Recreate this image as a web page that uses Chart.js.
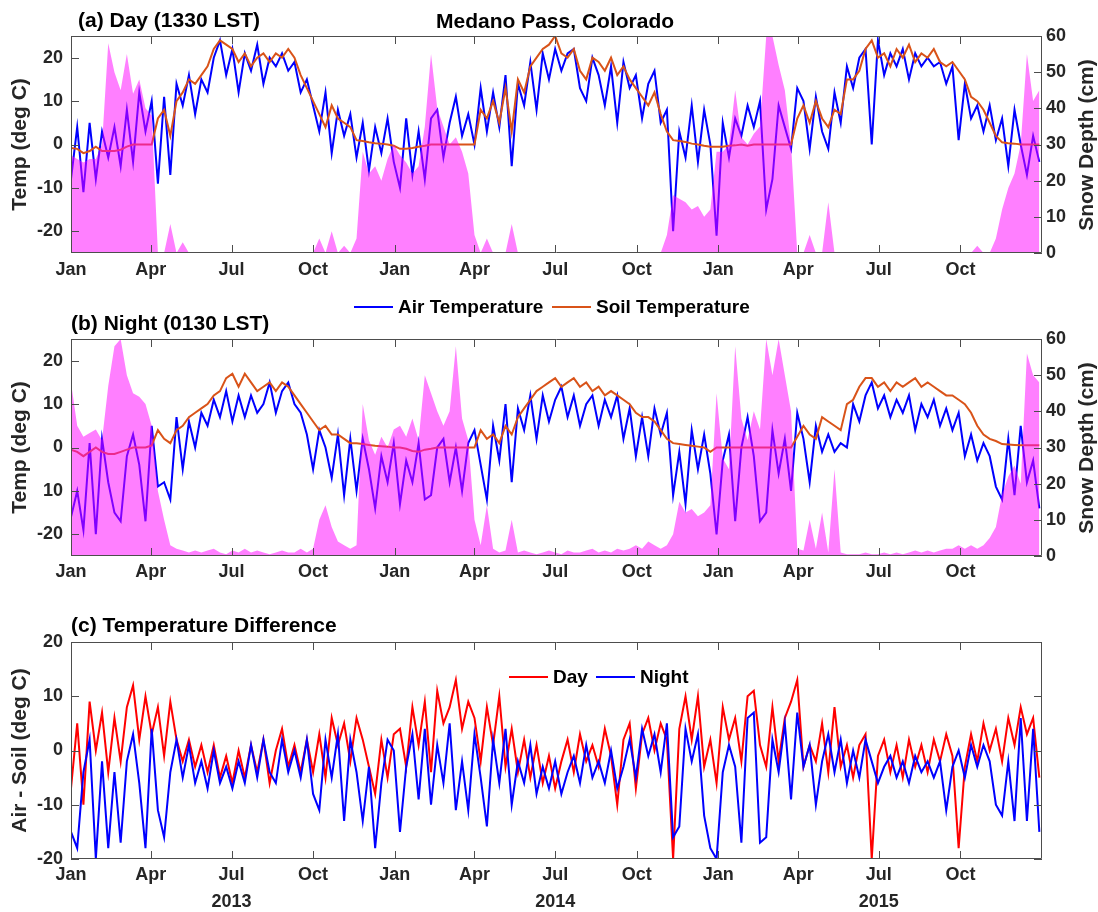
<!DOCTYPE html>
<html>
<head>
<meta charset="utf-8">
<title>Medano Pass, Colorado</title>
<script src="https://cdn.jsdelivr.net/npm/chart.js@4.4.1/dist/chart.umd.min.js"></script>
<style>
  body { margin: 0; background: #fff; }
  #wrap { position: relative; width: 1098px; height: 912px; background: #fff;
          font-family: "Liberation Sans", Arial, Helvetica, sans-serif; font-weight: bold; color: #000; }
  canvas { position: absolute; left: 0; }
  .t { position: absolute; white-space: nowrap; font-size: 21px; line-height: 21px; }
  .lg { position: absolute; display: flex; align-items: center; font-size: 19px; line-height: 19px; white-space: nowrap; }
  .lg i { display: inline-block; width: 39px; height: 0; border-top: 2px solid; margin-right: 5px; }
  .rt { position: absolute; white-space: nowrap; font-size: 21px; line-height: 21px; color: #262626;
        transform: translate(-50%, -50%) rotate(-90deg); }
</style>
</head>
<body>
<div id="wrap">
  <canvas id="cA" width="1098" height="290" style="top:0"></canvas>
  <canvas id="cB" width="1098" height="290" style="top:290px"></canvas>
  <canvas id="cC" width="1098" height="332" style="top:580px"></canvas>

  <div class="t" style="left:78px;top:9px">(a) Day (1330 LST)</div>
  <div class="t" style="left:436px;top:10px">Medano Pass, Colorado</div>
  <div class="rt" style="left:1085px;top:145px">Snow Depth (cm)</div>

  <div class="lg" style="left:354px;top:297px"><i style="border-color:#0000ff"></i>Air Temperature</div>
  <div class="lg" style="left:552px;top:297px"><i style="border-color:#d95319"></i>Soil Temperature</div>
  <div class="t" style="left:71px;top:312px">(b) Night (0130 LST)</div>
  <div class="rt" style="left:1085px;top:448px">Snow Depth (cm)</div>

  <div class="t" style="left:71px;top:614px">(c) Temperature Difference</div>
  <div class="lg" style="left:509px;top:667px"><i style="border-color:#ff0000"></i>Day</div>
  <div class="lg" style="left:596px;top:667px"><i style="border-color:#0000ff"></i>Night</div>
</div>

<script>
(function () {
    "use strict";

    // x axis: days since 1 Jan 2013, one value per week
    const STEP = 7;
    const monthDays = [0, 90, 181, 273, 365, 455, 546, 638, 730, 820, 911, 1003];
    const monthNames = ['Jan', 'Apr', 'Jul', 'Oct', 'Jan', 'Apr', 'Jul', 'Oct', 'Jan', 'Apr', 'Jul', 'Oct'];
    const yearNames = ['2013', '2014', '2015'];
    const tempTicks = [-20, -10, 0, 10, 20];
    const snowTicks = [0, 10, 20, 30, 40, 50, 60];
    const diffTicks = [-20, -10, 0, 10, 20];

    // (a) Day, 1330 LST
    const dayAir = [
        -8, 4, -11, 5, -8, 3, -3, 4, -5, 8, -4, 12, 3, 10, -9, 11, -7, 14, 9, 16, 7, 15, 12, 20, 24, 16, 22, 12, 21, 17, 23, 14, 20, 18, 21, 17, 19, 12, 15, 9, 3, 12, -2, 8, 2, 7, -3, 5, -6, 4, -2, 6, -4,
        -10, 6, -7, 3, -8, 6, 8, -3, 5, 11, 2, 7, 0, 13, 3, 12, 4, 16, -5, 14, 9, 19, 8, 21, 15, 22, 17, 21, 22, 13, 10, 20, 16, 9, 18, 5, 19, 13, 16, 6, 14, 17, 5, 8, -20, 3, -3, 9, -4, 8, 0, -21,
        5, -3, 6, 2, 9, 4, 10, -15, -8, 9, 4, -1, 13, 10, -1, 11, 3, -1, 12, 5, 18, 13, 20, 22, 0, 24, 16, 21, 18, 22, 15, 21, 18, 20, 18, 19, 14, 18, 1, 14, 6, 9, 3, 9, 1, 6, -5, 8, 0, -7, 2, -4
    ];
    const daySoil = [
        -0.8, -1, -2, -1.5, -0.5, -1.5, -1.5, -1.5, -1.2, -0.5, 0, 0, 0, 0, 6, 8, 2, 10, 12, 15, 14, 16, 18, 22, 24, 23, 22, 19, 21, 18, 20, 21, 19, 21, 20, 22, 20, 16, 13, 10, 7, 4, 9, 6, 5, 4, 1, 0.8, 0.5, 0.3, 0.2, 0, -0.3,
        -1, -1, -0.8, -0.5, -0.3, 0, 0, 0, 0, 0, 0, 0, 0, 8, 6, 10, 5, 13, 3, 15, 12, 18, 20, 22, 23, 25, 21, 20, 22, 17, 15, 20, 19, 17, 20, 16, 18, 15, 13, 11, 9, 12, 7, 3, 1, 0.8, 0.6, 0.2, 0, -0.3, -0.5, -0.5,
        -0.5, -0.3, -0.2, 0, -0.3, 0, 0, 0, 0, 0, 0, 0, 6, 9, 5, 10, 6, 4, 8, 7, 15, 15, 17, 22, 24, 20, 21, 18, 22, 20, 23, 19, 21, 20, 22, 19, 18, 19, 17, 15, 11, 10, 8, 5, 2, 0.5, 0.3, 0.2, 0, 0, 0, 0
    ];
    const daySnow = [
        27, 26, 25, 26, 26, 30, 58, 50, 45, 55, 44, 48, 40, 38, 0, 0, 8, 0, 3, 0, 0, 0, 0, 0, 0, 0, 0, 0, 0, 0, 0, 0, 0, 0, 0, 0, 0, 0, 0, 0, 4, 0, 6, 0, 2, 0, 4, 28, 22, 24, 20, 26, 30,
        27, 25, 22, 24, 35, 55, 40, 35, 30, 32, 28, 22, 5, 0, 4, 0, 0, 0, 8, 0, 0, 0, 0, 0, 0, 0, 0, 0, 0, 0, 0, 0, 0, 0, 0, 0, 0, 0, 0, 0, 0, 0, 0, 5, 16, 15, 14, 12, 13, 10, 12, 28,
        28, 30, 45, 32, 30, 33, 35, 60, 60, 52, 45, 30, 0, 0, 5, 0, 0, 14, 0, 0, 0, 0, 0, 0, 0, 0, 0, 0, 0, 0, 0, 0, 0, 0, 0, 0, 0, 0, 0, 0, 0, 2, 0, 0, 4, 12, 18, 22, 30, 55, 42, 45
    ];

    // (b) Night, 0130 LST
    const nightAir = [
        -16, -10, -19, 1, -20, 2, -8, -15, -17, -2, 3, -4, -17, 5, -9, -8, -12, 7, -5, 6, 0, 8, 5, 11, 7, 13, 6, 12, 7, 12, 8, 10, 15, 8, 13, 15, 10, 8, 3, -5, 4, 0, -7, 3, -11, 2, -10, 2, -5, -14, -2, -8, 1,
        -13, -3, -8, 1, -12, -11, 0, 2, -8, 0, -10, 1, 4, -4, -12, 5, -3, 10, -8, 9, 4, 12, 2, 12, 6, 11, 14, 7, 12, 5, 10, 12, 5, 11, 7, 12, 2, 9, -2, 7, -2, 9, 3, 8, -11, -1, -13, 4, -5, 3, -6, -20,
        -3, 3, -17, 0, 7, -2, -17, -15, 4, -6, 2, -10, 8, 2, -8, 5, -1, 3, -1, 1, 0, 10, 6, 12, 15, 9, 12, 7, 11, 8, 12, 4, 10, 7, 11, 5, 9, 4, 8, -2, 3, -3, 1, -2, -9, -12, 2, -11, 5, -8, -3, -14
    ];
    const nightSoil = [
        -0.5, -1, -2, -1, 0, -1, -1.5, -1.5, -1, -0.5, 0, 0, 0, 0.5, 4, 2, 1, 4, 5, 7, 8, 9, 10, 12, 13, 16, 17, 14, 17, 15, 13, 14, 15, 13, 15, 14, 12, 10, 8, 6, 4, 5, 3, 3, 2, 1, 1, 0.8, 0.6, 0.4, 0.3, 0.2, 0,
        0, -0.3, -0.8, -1, -0.5, -0.3, 0, 0, 0, 0, 0, 0, 0, 4, 2, 3, 1, 5, 3, 7, 9, 11, 13, 14, 15, 16, 14, 15, 16, 14, 15, 13, 14, 12, 13, 12, 11, 10, 8, 7, 7, 6, 4, 2, 1, 0.8, 0.6, 0.4, 0.2, 0, -1, 0,
        0, 0, 0, 0, 0, 0, 0, 0, 0, 0, 0, 0, 2.5, 5, 3, 2, 7, 6, 5, 4, 10, 11, 14, 16, 16, 14, 15, 13, 15, 14, 15, 16, 14, 15, 14, 13, 12, 12, 11, 10, 8, 5, 3, 2, 1.5, 0.8, 0.7, 0.6, 0.5, 0.5, 0.5, 0.5
    ];
    const nightSnow = [
        48, 36, 33, 34, 35, 32, 47, 58, 60, 50, 45, 44, 42, 36, 18, 10, 3, 2, 1.5, 1, 1.5, 1, 1.5, 2, 1, 0.5, 1.5, 1, 2, 1, 1.5, 1, 0.5, 1, 1.5, 1, 1, 2, 1, 2, 10, 14, 8, 4, 3, 2, 3, 42, 32, 28, 33, 30, 35,
        36, 33, 38, 32, 50, 45, 40, 36, 40, 58, 38, 32, 10, 3, 14, 2, 1, 1.5, 10, 1, 1.5, 1, 0.5, 1, 1.5, 1, 0.5, 1.5, 1, 1, 1.5, 2, 1, 1.5, 1, 2, 1.5, 2, 3, 2, 4, 3, 2, 3, 6, 15, 12, 13, 11, 12, 14, 45,
        27, 24, 58, 38, 32, 40, 35, 60, 50, 60, 50, 40, 2, 1.5, 10, 2, 12, 1, 24, 1, 0.5, 0.5, 0.5, 1, 0.5, 0.5, 1, 0.5, 1, 0.5, 1, 1.5, 1, 1.5, 1, 1.5, 2, 2, 3, 2, 3, 2, 3, 5, 8, 17, 22, 25, 20, 56, 50, 48
    ];

    // (c) Air - Soil
    const diffDay = [
        -7, 5, -10, 9, 0, 7, -4, 6, -2, 8, 12, 2, 10, 3, 8, -1, 9, 2, -2, 2, -3, 1, -4, 1, -5, -1, -6, 0, -5, 1, -4, 2, -6, 0, 4, -3, 1, -4, 2, -4, 3, -5, 6, 1, 5, -2, 6, 2, -3, -8, 2, -5, 3,
        4, -3, 8, 1, 9, -4, 11, 5, 8, 13, 4, 9, 6, -2, 8, 1, 10, -3, 4, -4, 2, -5, 1, -6, -1, -7, -2, 2, -4, 3, -2, 1, -3, 4, -1, -10, 2, 5, -7, 3, 6, 0, 5, 2, -20, 4, 10, 2, 10, -3, 2, -6,
        8, 2, 6, -2, 10, 11, 1, -3, 8, -2, 6, 9, 13, -3, 1, -2, 5, -4, 8, -3, 1, -5, 1, 3, -20, -1, 2, -4, 1, -5, 2, -3, 1, -4, 2, -2, 3, -1, -18, -3, 3, -2, 5, 0, 4, -2, 6, 1, 8, 3, 6, -5
    ];
    const diffNight = [
        -15, -18, -4, 2, -20, -2, -18, -4, -17, -2, 3, -6, -18, 4, -11, -16, -4, 2, -5, 1, -6, -2, -7, 0, -6, -3, -7, -2, -6, 1, -5, 2, -4, -6, 2, -4, 0, -5, 2, -8, -11, 2, -5, 3, -13, 2, -4, -13, -3, -18, -6, 2, 0,
        -15, -3, 3, -9, 4, -10, 1, -6, 5, -11, -2, -11, 3, -5, -14, 2, -6, 4, -10, -2, -6, 1, -8, -3, -7, -2, -8, -4, -1, -6, 1, -5, -2, -6, 0, -7, -3, 2, -5, 4, -1, 3, -4, 5, -16, -14, 4, -2, 3, -12, -18, -20,
        -4, 1, -3, -17, 6, 7, -17, -16, 2, -4, 5, -9, 7, -3, 1, -10, -2, 3, -4, 2, -6, 0, -5, 2, -2, -6, -3, -1, -5, -2, -6, -1, -4, -2, -5, -2, -11, -3, 0, -5, 1, -3, 1, -2, -10, -12, -2, -13, 6, -13, 4, -15
    ];

    const AIR = '#0000ff', SOIL = '#d95319', SNOW = 'rgba(255, 0, 255, 0.5)', RED = '#ff0000';
    const TICK = 8;

    Chart.defaults.font.family = '"Liberation Sans", Arial, Helvetica, sans-serif';
    Chart.defaults.font.size = 18;
    Chart.defaults.font.weight = 'bold';
    Chart.defaults.color = '#262626';

    const pts = (arr) => arr.map((v, i) => ({ x: i * STEP, y: v }));

    const line = (label, arr, color) => ({
        label, data: pts(arr), yAxisID: 'y', borderColor: color, borderWidth: 2,
        pointRadius: 0, fill: false, tension: 0
    });
    const snow = (arr) => ({
        label: 'Snow Depth', data: pts(arr), yAxisID: 'y2', borderWidth: 0,
        borderColor: 'rgba(0,0,0,0)', backgroundColor: SNOW, fill: 'origin', pointRadius: 0
    });

    const xAxis = (height, pad, withYears) => ({
        type: 'linear', min: 0, max: 1095,
        grid: { display: false, drawTicks: false }, border: { display: false },
        afterBuildTicks: (ax) => { ax.ticks = monthDays.map((v) => ({ value: v })); },
        afterFit: (ax) => { ax.height = height; },
        ticks: {
            autoSkip: false, maxRotation: 0, minRotation: 0, padding: pad,
            font: withYears ? { lineHeight: 1.5 } : {},
            callback: (v, i) => (withYears && i % 4 === 2) ? [monthNames[i], yearNames[(i - 2) / 4]] : monthNames[i]
        }
    });

    const yAxis = (pos, min, max, ticks, width, pad, title, cb) => ({
        type: 'linear', position: pos, min, max,
        grid: { display: false, drawTicks: false }, border: { display: false },
        afterBuildTicks: (ax) => { ax.ticks = ticks.map((v) => ({ value: v })); },
        afterFit: (ax) => { ax.width = width; },
        ticks: { padding: pad, callback: cb || ((v) => String(v)) },
        title: title
            ? { display: true, text: title, font: { size: 21 }, padding: { top: 8, bottom: 0 } }
            : { display: false }
    });

    // box and inward tick marks, like the original axes
    const frame = (leftTicks, rightTicks, rightId) => ({
        id: 'frame',
        afterDraw(chart) {
            const { ctx, chartArea: a, scales } = chart;
            ctx.save();
            ctx.strokeStyle = '#4d4d4d';
            ctx.lineWidth = 1;
            ctx.beginPath();
            monthDays.forEach((v) => {
                const px = Math.round(scales.x.getPixelForValue(v)) + 0.5;
                ctx.moveTo(px, a.bottom); ctx.lineTo(px, a.bottom - TICK);
                ctx.moveTo(px, a.top); ctx.lineTo(px, a.top + TICK);
            });
            leftTicks.forEach((v) => {
                const py = Math.round(scales.y.getPixelForValue(v)) + 0.5;
                ctx.moveTo(a.left, py); ctx.lineTo(a.left + TICK, py);
            });
            rightTicks.forEach((v) => {
                const py = Math.round(scales[rightId].getPixelForValue(v)) + 0.5;
                ctx.moveTo(a.right, py); ctx.lineTo(a.right - TICK, py);
            });
            ctx.rect(Math.round(a.left) + 0.5, Math.round(a.top) + 0.5,
                Math.round(a.right - a.left) - 1, Math.round(a.bottom - a.top) - 1);
            ctx.stroke();
            ctx.restore();
        }
    });

    const opts = (padTop, padRight, scales) => ({
        responsive: false, animation: false, events: [],
        layout: { padding: { top: padTop, right: padRight, left: 0, bottom: 0 } },
        plugins: { legend: { display: false }, tooltip: { enabled: false } },
        scales
    });

    // (a) Day
    new Chart(document.getElementById('cA'), {
        type: 'line',
        data: { datasets: [snow(daySnow), line('Soil Temperature', daySoil, SOIL), line('Air Temperature', dayAir, AIR)] },
        options: opts(36, 0, {
            x: xAxis(37, 6, false),
            y: yAxis('left', -25, 25, tempTicks, 71, 8, 'Temp (deg C)'),
            y2: yAxis('right', 0, 60, snowTicks, 56, 4)
        }),
        plugins: [frame(tempTicks, snowTicks, 'y2')]
    });

    // (b) Night (the -10 tick reads "10" in the original)
    new Chart(document.getElementById('cB'), {
        type: 'line',
        data: { datasets: [snow(nightSnow), line('Soil Temperature', nightSoil, SOIL), line('Air Temperature', nightAir, AIR)] },
        options: opts(49, 0, {
            x: xAxis(24, 5, false),
            y: yAxis('left', -25, 25, tempTicks, 71, 8, 'Temp (deg C)', (v) => (v === -10 ? '10' : String(v))),
            y2: yAxis('right', 0, 60, snowTicks, 56, 4)
        }),
        plugins: [frame(tempTicks, snowTicks, 'y2')]
    });

    // (c) Difference, night drawn over day
    new Chart(document.getElementById('cC'), {
        type: 'line',
        data: { datasets: [line('Night', diffNight, AIR), line('Day', diffDay, RED)] },
        options: opts(62, 56, {
            x: xAxis(53, 2.5, true),
            y: yAxis('left', -20, 20, diffTicks, 71, 8, 'Air - Soil (deg C)')
        }),
        plugins: [frame(diffTicks, diffTicks, 'y')]
    });
})();
</script>
</body>
</html>
